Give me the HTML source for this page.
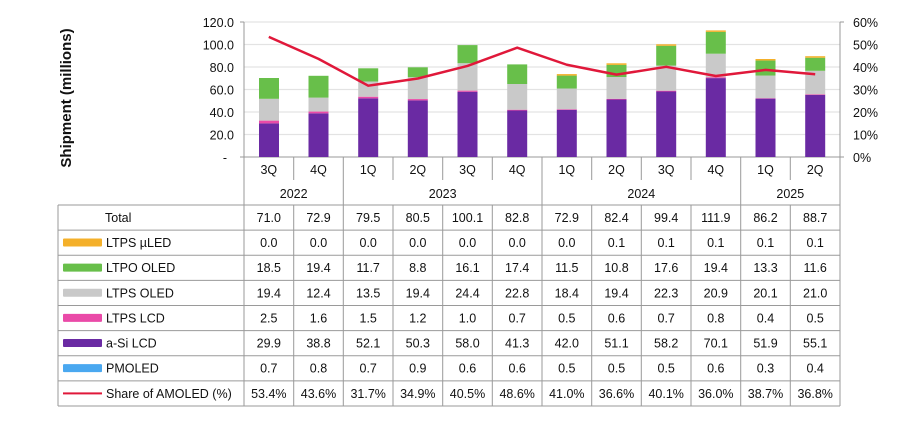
<!DOCTYPE html>
<html><head><meta charset="utf-8"><style>
html,body{margin:0;padding:0;background:#fff}
svg{display:block;font-family:"Liberation Sans",sans-serif}
</style></head><body>
<svg width="902" height="427" viewBox="0 0 902 427" xmlns="http://www.w3.org/2000/svg">
<g stroke="#e3e3e3" stroke-width="1.2">
<line x1="244" y1="22" x2="840" y2="22"/><line x1="244" y1="44.5" x2="840" y2="44.5"/><line x1="244" y1="67" x2="840" y2="67"/><line x1="244" y1="89.5" x2="840" y2="89.5"/><line x1="244" y1="112" x2="840" y2="112"/><line x1="244" y1="134.5" x2="840" y2="134.5"/>
</g>
<g font-size="12.5" fill="#111" text-anchor="end">
<text x="234" y="27">120.0</text><text x="234" y="49.5">100.0</text><text x="234" y="72">80.0</text><text x="234" y="94.5">60.0</text><text x="234" y="117">40.0</text><text x="234" y="139.5">20.0</text><text x="227" y="162">-</text>
</g>
<g font-size="12.5" fill="#111">
<text x="853" y="27">60%</text><text x="853" y="49.5">50%</text><text x="853" y="72">40%</text><text x="853" y="94.5">30%</text><text x="853" y="117">20%</text><text x="853" y="139.5">10%</text><text x="853" y="162">0%</text>
</g>
<text transform="translate(71,98) rotate(-90)" text-anchor="middle" font-size="15" font-weight="bold" fill="#111">Shipment (millions)</text>
<g stroke="#999" stroke-width="1">
<line x1="240" y1="22" x2="244" y2="22"/><line x1="840" y1="22" x2="844" y2="22"/>
<line x1="244" y1="22" x2="244" y2="406"/><line x1="840" y1="22" x2="840" y2="406"/>
<line x1="240" y1="157" x2="844" y2="157"/>
</g>
<!-- bars -->
<g>
<rect x="259" y="123.4" width="20" height="33.6" fill="#6a2aa3"/><rect x="259" y="120.6" width="20" height="2.8" fill="#ea4aa8"/><rect x="259" y="98.8" width="20" height="21.8" fill="#c9c9c9"/><rect x="259" y="78" width="20" height="20.8" fill="#68bf4a"/>
<rect x="308.5" y="113.35" width="20" height="43.65" fill="#6a2aa3"/><rect x="308.5" y="111.55" width="20" height="1.8" fill="#ea4aa8"/><rect x="308.5" y="97.6" width="20" height="13.95" fill="#c9c9c9"/><rect x="308.5" y="75.8" width="20" height="21.8" fill="#68bf4a"/>
<rect x="358.2" y="98.4" width="20" height="58.6" fill="#6a2aa3"/><rect x="358.2" y="96.7" width="20" height="1.7" fill="#ea4aa8"/><rect x="358.2" y="81.5" width="20" height="15.2" fill="#c9c9c9"/><rect x="358.2" y="68.3" width="20" height="13.2" fill="#68bf4a"/>
<rect x="407.8" y="100.4" width="20" height="56.6" fill="#6a2aa3"/><rect x="407.8" y="99.05" width="20" height="1.35" fill="#ea4aa8"/><rect x="407.8" y="77.2" width="20" height="21.85" fill="#c9c9c9"/><rect x="407.8" y="67.3" width="20" height="9.9" fill="#68bf4a"/>
<rect x="457.5" y="91.75" width="20" height="65.25" fill="#6a2aa3"/><rect x="457.5" y="90.6" width="20" height="1.15" fill="#ea4aa8"/><rect x="457.5" y="63.2" width="20" height="27.4" fill="#c9c9c9"/><rect x="457.5" y="45.1" width="20" height="18.1" fill="#68bf4a"/>
<rect x="507.2" y="110.5" width="20" height="46.5" fill="#6a2aa3"/><rect x="507.2" y="109.7" width="20" height="0.8" fill="#ea4aa8"/><rect x="507.2" y="84" width="20" height="25.7" fill="#c9c9c9"/><rect x="507.2" y="64.4" width="20" height="19.6" fill="#68bf4a"/>
<rect x="556.8" y="109.75" width="20" height="47.25" fill="#6a2aa3"/><rect x="556.8" y="109.2" width="20" height="0.6" fill="#ea4aa8"/><rect x="556.8" y="88.5" width="20" height="20.7" fill="#c9c9c9"/><rect x="556.8" y="75.6" width="20" height="12.9" fill="#68bf4a"/><rect x="556.8" y="74.1" width="20" height="1.5" fill="#f4b02a"/>
<rect x="606.5" y="99.5" width="20" height="57.5" fill="#6a2aa3"/><rect x="606.5" y="98.8" width="20" height="0.7" fill="#ea4aa8"/><rect x="606.5" y="77" width="20" height="21.8" fill="#c9c9c9"/><rect x="606.5" y="64.85" width="20" height="12.15" fill="#68bf4a"/><rect x="606.5" y="63.3" width="20" height="1.6" fill="#f4b02a"/>
<rect x="656.2" y="91.5" width="20" height="65.5" fill="#6a2aa3"/><rect x="656.2" y="90.7" width="20" height="0.8" fill="#ea4aa8"/><rect x="656.2" y="65.6" width="20" height="25.1" fill="#c9c9c9"/><rect x="656.2" y="45.8" width="20" height="19.8" fill="#68bf4a"/><rect x="656.2" y="44.3" width="20" height="1.5" fill="#f4b02a"/>
<rect x="705.8" y="78.1" width="20" height="78.9" fill="#6a2aa3"/><rect x="705.8" y="77.2" width="20" height="0.9" fill="#ea4aa8"/><rect x="705.8" y="53.7" width="20" height="23.5" fill="#c9c9c9"/><rect x="705.8" y="31.9" width="20" height="21.8" fill="#68bf4a"/><rect x="705.8" y="30.4" width="20" height="1.5" fill="#f4b02a"/>
<rect x="755.5" y="98.6" width="20" height="58.4" fill="#6a2aa3"/><rect x="755.5" y="98.15" width="20" height="0.45" fill="#ea4aa8"/><rect x="755.5" y="75.55" width="20" height="22.6" fill="#c9c9c9"/><rect x="755.5" y="60.55" width="20" height="15" fill="#68bf4a"/><rect x="755.5" y="59" width="20" height="1.55" fill="#f4b02a"/>
<rect x="805.2" y="95" width="20" height="62" fill="#6a2aa3"/><rect x="805.2" y="94.4" width="20" height="0.6" fill="#ea4aa8"/><rect x="805.2" y="70.8" width="20" height="23.6" fill="#c9c9c9"/><rect x="805.2" y="57.75" width="20" height="13.05" fill="#68bf4a"/><rect x="805.2" y="56.2" width="20" height="1.55" fill="#f4b02a"/>
</g>
<polyline fill="none" stroke="#e0183a" stroke-width="2.5" stroke-linejoin="round" points="268.8,36.85 318.5,58.9 368.2,85.7 417.8,78.5 467.5,65.9 517.2,47.65 566.8,64.75 616.5,74.65 666.2,66.8 715.8,76 765.5,69.9 815.2,74.2"/>
<!-- header/table lines -->
<g stroke="#9a9a9a" stroke-width="1">
<line x1="293.7" y1="157" x2="293.7" y2="180"/><line x1="393" y1="157" x2="393" y2="180"/><line x1="442.7" y1="157" x2="442.7" y2="180"/><line x1="492.3" y1="157" x2="492.3" y2="180"/><line x1="591.7" y1="157" x2="591.7" y2="180"/><line x1="641.3" y1="157" x2="641.3" y2="180"/><line x1="691" y1="157" x2="691" y2="180"/><line x1="790.3" y1="157" x2="790.3" y2="180"/>
<line x1="343.3" y1="157" x2="343.3" y2="406"/><line x1="542" y1="157" x2="542" y2="406"/><line x1="740.7" y1="157" x2="740.7" y2="406"/>
<line x1="293.7" y1="205" x2="293.7" y2="406"/><line x1="393" y1="205" x2="393" y2="406"/><line x1="442.7" y1="205" x2="442.7" y2="406"/><line x1="492.3" y1="205" x2="492.3" y2="406"/><line x1="591.7" y1="205" x2="591.7" y2="406"/><line x1="641.3" y1="205" x2="641.3" y2="406"/><line x1="691" y1="205" x2="691" y2="406"/><line x1="790.3" y1="205" x2="790.3" y2="406"/>
<line x1="58" y1="205" x2="58" y2="406"/>
<line x1="58" y1="205" x2="840" y2="205"/><line x1="58" y1="230.1" x2="840" y2="230.1"/><line x1="58" y1="255.2" x2="840" y2="255.2"/><line x1="58" y1="280.4" x2="840" y2="280.4"/><line x1="58" y1="305.5" x2="840" y2="305.5"/><line x1="58" y1="330.6" x2="840" y2="330.6"/><line x1="58" y1="355.7" x2="840" y2="355.7"/><line x1="58" y1="380.9" x2="840" y2="380.9"/><line x1="58" y1="406" x2="840" y2="406"/>
</g>
<g font-size="12.5" fill="#111" text-anchor="middle">
<text x="268.8" y="174">3Q</text><text x="318.5" y="174">4Q</text><text x="368.2" y="174">1Q</text><text x="417.8" y="174">2Q</text><text x="467.5" y="174">3Q</text><text x="517.2" y="174">4Q</text><text x="566.8" y="174">1Q</text><text x="616.5" y="174">2Q</text><text x="666.2" y="174">3Q</text><text x="715.8" y="174">4Q</text><text x="765.5" y="174">1Q</text><text x="815.2" y="174">2Q</text>
<text x="293.7" y="198">2022</text><text x="442.7" y="198">2023</text><text x="641.3" y="198">2024</text><text x="790.3" y="198">2025</text>
</g>
<!-- legend column -->
<g>
<rect x="63" y="238.5" width="39" height="8" rx="1" fill="#f4b02a"/>
<rect x="63" y="263.6" width="39" height="8" rx="1" fill="#68bf4a"/>
<rect x="63" y="288.8" width="39" height="8" rx="1" fill="#c9c9c9"/>
<rect x="63" y="313.9" width="39" height="8" rx="1" fill="#ea4aa8"/>
<rect x="63" y="339" width="39" height="8" rx="1" fill="#6a2aa3"/>
<rect x="63" y="364.1" width="39" height="8" rx="1" fill="#4aa8f0"/>
<rect x="63" y="392.4" width="39" height="2" fill="#e0183a"/>
</g>
<g font-size="12.5" fill="#111">
<text x="105" y="222">Total</text>
<text x="106" y="247">LTPS µLED</text>
<text x="106" y="272">LTPO OLED</text>
<text x="106" y="297.5">LTPS OLED</text>
<text x="106" y="322.5">LTPS LCD</text>
<text x="106" y="347.5">a-Si LCD</text>
<text x="106" y="372.5">PMOLED</text>
<text x="106" y="398">Share of AMOLED (%)</text>
</g>
<g font-size="12.5" fill="#111" text-anchor="middle">
<g transform="translate(0,222)"><text x="268.8">71.0</text><text x="318.5">72.9</text><text x="368.2">79.5</text><text x="417.8">80.5</text><text x="467.5">100.1</text><text x="517.2">82.8</text><text x="566.8">72.9</text><text x="616.5">82.4</text><text x="666.2">99.4</text><text x="715.8">111.9</text><text x="765.5">86.2</text><text x="815.2">88.7</text></g>
<g transform="translate(0,247)"><text x="268.8">0.0</text><text x="318.5">0.0</text><text x="368.2">0.0</text><text x="417.8">0.0</text><text x="467.5">0.0</text><text x="517.2">0.0</text><text x="566.8">0.0</text><text x="616.5">0.1</text><text x="666.2">0.1</text><text x="715.8">0.1</text><text x="765.5">0.1</text><text x="815.2">0.1</text></g>
<g transform="translate(0,272)"><text x="268.8">18.5</text><text x="318.5">19.4</text><text x="368.2">11.7</text><text x="417.8">8.8</text><text x="467.5">16.1</text><text x="517.2">17.4</text><text x="566.8">11.5</text><text x="616.5">10.8</text><text x="666.2">17.6</text><text x="715.8">19.4</text><text x="765.5">13.3</text><text x="815.2">11.6</text></g>
<g transform="translate(0,297.5)"><text x="268.8">19.4</text><text x="318.5">12.4</text><text x="368.2">13.5</text><text x="417.8">19.4</text><text x="467.5">24.4</text><text x="517.2">22.8</text><text x="566.8">18.4</text><text x="616.5">19.4</text><text x="666.2">22.3</text><text x="715.8">20.9</text><text x="765.5">20.1</text><text x="815.2">21.0</text></g>
<g transform="translate(0,322.5)"><text x="268.8">2.5</text><text x="318.5">1.6</text><text x="368.2">1.5</text><text x="417.8">1.2</text><text x="467.5">1.0</text><text x="517.2">0.7</text><text x="566.8">0.5</text><text x="616.5">0.6</text><text x="666.2">0.7</text><text x="715.8">0.8</text><text x="765.5">0.4</text><text x="815.2">0.5</text></g>
<g transform="translate(0,347.5)"><text x="268.8">29.9</text><text x="318.5">38.8</text><text x="368.2">52.1</text><text x="417.8">50.3</text><text x="467.5">58.0</text><text x="517.2">41.3</text><text x="566.8">42.0</text><text x="616.5">51.1</text><text x="666.2">58.2</text><text x="715.8">70.1</text><text x="765.5">51.9</text><text x="815.2">55.1</text></g>
<g transform="translate(0,372.5)"><text x="268.8">0.7</text><text x="318.5">0.8</text><text x="368.2">0.7</text><text x="417.8">0.9</text><text x="467.5">0.6</text><text x="517.2">0.6</text><text x="566.8">0.5</text><text x="616.5">0.5</text><text x="666.2">0.5</text><text x="715.8">0.6</text><text x="765.5">0.3</text><text x="815.2">0.4</text></g>
<g transform="translate(0,398)"><text x="268.8">53.4%</text><text x="318.5">43.6%</text><text x="368.2">31.7%</text><text x="417.8">34.9%</text><text x="467.5">40.5%</text><text x="517.2">48.6%</text><text x="566.8">41.0%</text><text x="616.5">36.6%</text><text x="666.2">40.1%</text><text x="715.8">36.0%</text><text x="765.5">38.7%</text><text x="815.2">36.8%</text></g>
</g>
</svg>
</body></html>
